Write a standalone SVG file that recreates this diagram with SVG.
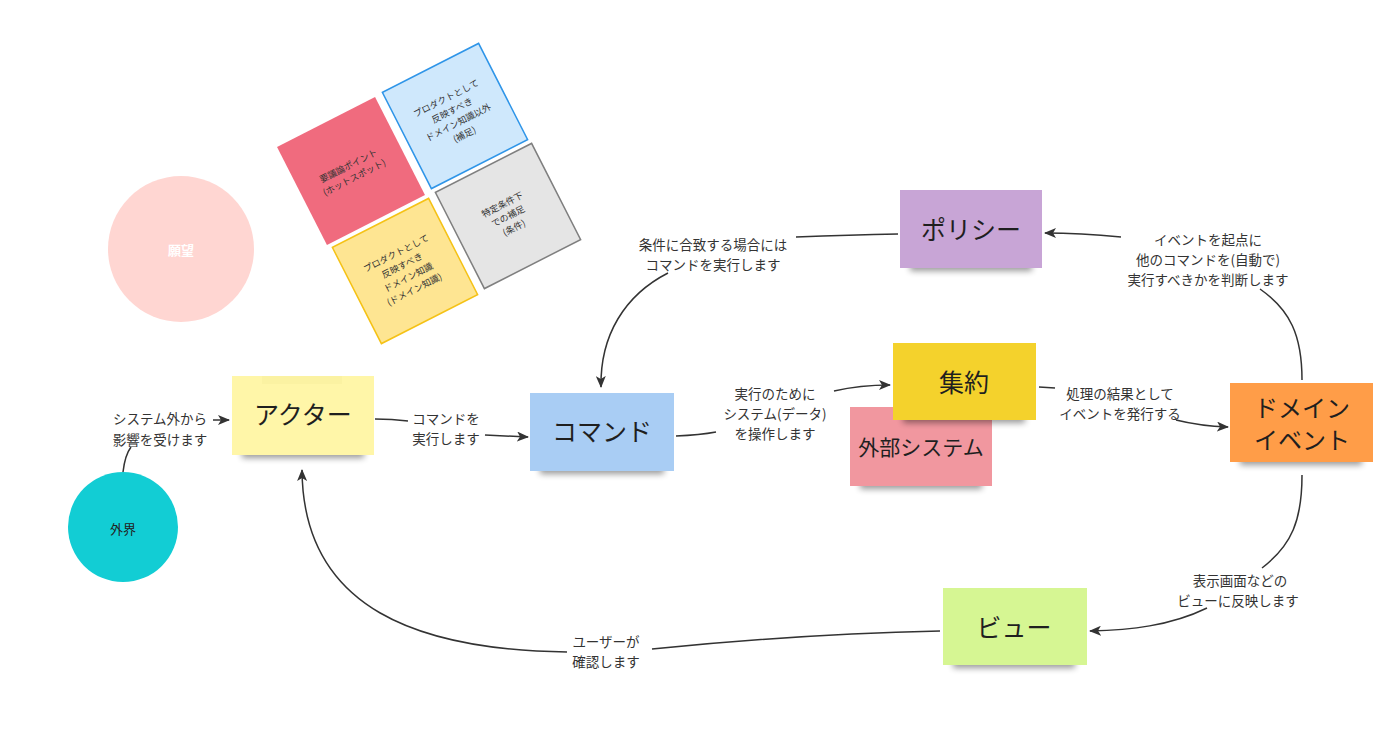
<svg xmlns="http://www.w3.org/2000/svg" width="1400" height="755" viewBox="0 0 1400 755">
<defs>
<style>
.lbl{font-family:"Noto Sans CJK JP","Noto Sans",sans-serif;font-size:13.5px;fill:#333;text-anchor:middle;dominant-baseline:central}
.big{font-family:"Noto Sans CJK JP","Noto Sans",sans-serif;font-size:25px;fill:#1f1f1f;text-anchor:middle;dominant-baseline:central}
.sm{font-family:"Noto Sans CJK JP","Noto Sans",sans-serif;font-size:9px;fill:#333;text-anchor:middle;dominant-baseline:central}
.con{fill:none;stroke:#333;stroke-width:1.5}
.arr{marker-end:url(#ah)}
.shadow{fill:#000;opacity:0.4;filter:url(#blur)}
</style>
<marker id="ah" viewBox="0 0 12 10" refX="11" refY="5" markerWidth="12" markerHeight="10" markerUnits="userSpaceOnUse" orient="auto">
<path d="M0,0 L12,5 L0,10 L3,5 Z" fill="#333"/>
</marker>
<filter id="blur" x="-20%" y="-100%" width="140%" height="300%"><feGaussianBlur stdDeviation="3"/></filter>
</defs>
<rect width="1400" height="755" fill="#fff"/>

<g id="legend-hotspot" transform="translate(351,171) rotate(-27)">
<rect x="-55" y="-55" width="110" height="110" fill="#f06b7e"/>
<text class="sm" y="-6">要議論ポイント</text>
<text class="sm" y="7">(ホットスポット)</text>
</g>
<g id="legend-supplement" transform="translate(455,116) rotate(-27)">
<rect x="-54" y="-54" width="108" height="108" fill="#cfe8fc" stroke="#2f95e8" stroke-width="1.5"/>
<text class="sm" y="-20">プロダクトとして</text>
<text class="sm" y="-6.5">反映すべき</text>
<text class="sm" y="7">ドメイン知識以外</text>
<text class="sm" y="20.5">(補足)</text>
</g>
<g id="legend-domain" transform="translate(405,271) rotate(-27)">
<rect x="-54" y="-54" width="108" height="108" fill="#fee592" stroke="#f5c216" stroke-width="1.5"/>
<text class="sm" y="-20">プロダクトとして</text>
<text class="sm" y="-6.5">反映すべき</text>
<text class="sm" y="7">ドメイン知識</text>
<text class="sm" y="20.5">(ドメイン知識)</text>
</g>
<g id="legend-condition" transform="translate(508,216) rotate(-27)">
<rect x="-54" y="-54" width="108" height="108" fill="#e5e5e5" stroke="#7f7f7f" stroke-width="1.5"/>
<text class="sm" y="-13">特定条件下</text>
<text class="sm" y="0">での補足</text>
<text class="sm" y="13">(条件)</text>
</g>

<g id="wish">
<circle cx="181" cy="249" r="73" fill="#ffd6d2"/>
<text x="181" y="249" font-family="Noto Sans CJK JP, sans-serif" font-size="13" font-weight="bold" fill="#fff" text-anchor="middle" dominant-baseline="central">願望</text>
</g>

<g id="outside">
<circle cx="123" cy="527" r="55" fill="#12cdd4"/>
<text x="123" y="528" font-family="Noto Sans CJK JP, sans-serif" font-size="13" fill="#222" text-anchor="middle" dominant-baseline="central">外界</text>
</g>

<g id="connectors">
<path class="con" d="M123 472 Q125 455 131 447"/>
<path class="con arr" d="M213 420 L229 420"/>
<path class="con" d="M375 419 Q392 419 408 421"/>
<path class="con arr" d="M485 435 Q505 436 528 437"/>
<path class="con" d="M676 436 Q700 435 716 432"/>
<path class="con arr" d="M834 391 Q860 385 890 385"/>
<path class="con" d="M1039 387 L1055 388"/>
<path class="con arr" d="M1176 420 Q1200 426 1228 427"/>
<path class="con" d="M1302 380 C1302 335 1290 310 1260 289"/>
<path class="con arr" d="M1121 237 Q1080 233 1045 233"/>
<path class="con" d="M898 234 Q850 235 796 237"/>
<path class="con arr" d="M668 273 C625 295 600 335 601 387"/>
<path class="con" d="M1302 475 C1302 520 1292 545 1262 568"/>
<path class="con arr" d="M1207 608 C1170 626 1130 630 1090 631"/>
<path class="con" d="M940 631 Q800 634 652 649"/>
<path class="con arr" d="M567 652 C420 650 303 610 302 470"/>
<g id="labels">
<text class="lbl" x="160" y="418">システム外から</text>
<text class="lbl" x="160" y="439">影響を受けます</text>
<text class="lbl" x="446" y="418">コマンドを</text>
<text class="lbl" x="446" y="438">実行します</text>
<text class="lbl" x="775" y="393">実行のために</text>
<text class="lbl" x="775" y="413">システム(データ)</text>
<text class="lbl" x="775" y="433">を操作します</text>
<text class="lbl" x="1120" y="393">処理の結果として</text>
<text class="lbl" x="1120" y="413">イベントを発行する</text>
<text class="lbl" x="1208" y="239">イベントを起点に</text>
<text class="lbl" x="1208" y="259">他のコマンドを(自動で)</text>
<text class="lbl" x="1208" y="279">実行すべきかを判断します</text>
<text class="lbl" x="713" y="244">条件に合致する場合には</text>
<text class="lbl" x="713" y="264">コマンドを実行します</text>
<text class="lbl" x="1240" y="580">表示画面などの</text>
<text class="lbl" x="1238" y="600">ビューに反映します</text>
<text class="lbl" x="606" y="641">ユーザーが</text>
<text class="lbl" x="606" y="661">確認します</text>
</g>
</g>

<g id="actor">
<rect class="shadow" x="242" y="446" width="122" height="12"/>
<rect x="232" y="376" width="142" height="79" fill="#fff6a8"/>
<rect x="262" y="376" width="80" height="8" fill="#fbf2a2"/>
<text class="big" x="303" y="413" font-size="26">アクター</text>
</g>
<g id="command">
<rect class="shadow" x="540" y="462" width="124" height="12"/>
<rect x="530" y="393" width="144" height="78" fill="#a9cdf4"/>
<text class="big" x="602" y="430">コマンド</text>
</g>
<g id="policy">
<rect class="shadow" x="910" y="259" width="122" height="12"/>
<rect x="900" y="190" width="142" height="78" fill="#c8a5d6"/>
<text class="big" x="971" y="228">ポリシー</text>
</g>
<g id="external">
<rect class="shadow" x="860" y="477" width="122" height="12"/>
<rect x="850" y="407" width="142" height="79" fill="#f1979f"/>
<text class="big" x="921" y="446" style="font-size:21px">外部システム</text>
</g>
<g id="aggregate">
<rect class="shadow" x="903" y="411" width="122" height="12"/>
<rect x="893" y="343" width="143" height="77" fill="#f4d22c"/>
<text class="big" x="964" y="381">集約</text>
</g>
<g id="domain-event">
<rect class="shadow" x="1240" y="453" width="122" height="12"/>
<rect x="1230" y="383" width="143" height="79" fill="#ff9d48"/>
<text class="big" x="1302" y="406" style="font-size:24px">ドメイン</text>
<text class="big" x="1302" y="438" style="font-size:24px">イベント</text>
</g>
<g id="view">
<rect class="shadow" x="953" y="656" width="122" height="12"/>
<rect x="943" y="588" width="144" height="77" fill="#d6f693"/>
<text class="big" x="1014" y="626">ビュー</text>
</g>
</svg>
